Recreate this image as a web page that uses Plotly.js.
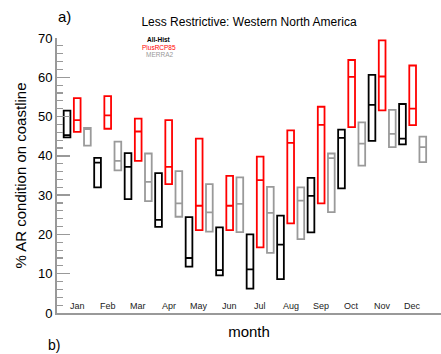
<!DOCTYPE html>
<html>
<head>
<meta charset="utf-8">
<script src="https://cdn.plot.ly/plotly-3.0.1.min.js"></script>
<style>html,body{margin:0;padding:0;background:#fff;}#chart{width:441px;height:354px;}</style>
</head>
<body>
<div id="chart"></div>
<script>
const months = ['Jan','Feb','Mar','Apr','May','Jun','Jul','Aug','Sep','Oct','Nov','Dec'];
const seriesNames = ['All-Hist','PlusRCP85','MERRA2'];

const allHistMax = [51.5,39.5,40.7,35.6,24.4,21.8,20.0,24.8,34.4,46.7,60.6,53.2];
const allHistMed = [45.3,38.3,37.2,23.7,14.0,10.9,11.1,17.4,29.8,44.6,53.0,44.4];
const allHistMin = [44.7,32.0,29.0,21.9,11.8,9.6,6.2,8.6,20.5,31.7,43.8,42.9];

const rcpMax = [54.7,55.2,49.5,49.1,44.4,34.9,39.8,46.5,52.5,64.4,69.4,63.0];
const rcpMed = [49.1,50.3,46.2,37.2,27.3,27.3,33.8,43.3,47.9,60.1,60.2,52.0];
const rcpMin = [46.1,46.9,38.7,32.8,21.1,21.1,16.7,22.8,27.9,47.3,51.6,47.8];

const merraMax = [47.1,43.6,40.6,36.1,32.8,34.5,32.1,32.0,40.6,48.5,51.7,44.9];
const merraMed = [46.8,38.7,33.4,27.9,25.6,27.8,25.5,28.6,39.4,43.1,45.6,42.2];
const merraMin = [42.6,36.3,28.5,24.5,20.7,20.6,15.3,18.8,25.7,37.5,42.2,38.4];

const colors = ['#000000','#ff0000','#9a9a9a'];
const offsets = [-1/3, 0, 1/3];
const stats = [
  [allHistMin, allHistMed, allHistMax],
  [rcpMin, rcpMed, rcpMax],
  [merraMin, merraMed, merraMax]
];

const idx = months.map((m,i)=>i+1);
const traces = stats.map((s,k)=>({
  type:'box',
  name: seriesNames[k],
  x: idx.map(v=>v+offsets[k]),
  q1: s[0], lowerfence: s[0],
  median: s[1],
  q3: s[2], upperfence: s[2],
  width: 0.22,
  fillcolor: 'rgba(0,0,0,0)',
  line: {color: colors[k], width: 1.8},
  whiskerwidth: 0,
  showlegend: false,
  hoverinfo: 'skip'
}));

const ann = months.map((m,i)=>({
  x: i+1, y: 1.7, xref:'x', yref:'y', text: m, showarrow:false,
  font:{size:9, color:'#222', family:'Liberation Sans, Arial, sans-serif'},
  xanchor:'center', yanchor:'middle'
}));

const legY = [39, 47, 55];
seriesNames.forEach((n,k)=>{
  ann.push({
    x: 159, y: legY[k], xref:'paper', yref:'paper', text: k===0 ? '<b>'+n+'</b>' : n,
    showarrow:false, font:{size:6.5, color:colors[k], family:'Liberation Sans, Arial, sans-serif'},
    xanchor:'center', yanchor:'middle'
  });
});

// convert pixel positions for legend to paper coords
const L=57, R=0, T=38, B=41, W=441, H=354;
const pw = W-L-R, ph = H-T-B;
ann.forEach(a=>{
  if(a.xref==='paper'){ a.x = (a.x - L)/pw; a.y = 1 - (a.y - T)/ph; }
});
ann.push({x:(64-L)/pw, y:1-(17-T)/ph, xref:'paper', yref:'paper', text:'a)', showarrow:false,
  font:{size:15, color:'#000', family:'Liberation Sans, Arial, sans-serif'}, xanchor:'center', yanchor:'middle'});
ann.push({x:(54-L)/pw, y:1-(345-T)/ph, xref:'paper', yref:'paper', text:'b)', showarrow:false,
  font:{size:14, color:'#000', family:'Liberation Sans, Arial, sans-serif'}, xanchor:'center', yanchor:'middle'});

const layout = {
  width: W, height: H,
  margin: {l:L, r:R, t:T, b:B, pad:0},
  paper_bgcolor:'#fff', plot_bgcolor:'#fff',
  font:{family:'Liberation Sans, Arial, sans-serif', color:'#000'},
  title:{text:'Less Restrictive: Western North America', font:{size:12, color:'#000'},
    xref:'paper', x:0.5, xanchor:'center', yref:'container', y:1-21.7/H, yanchor:'middle'},
  xaxis:{range:[0.337,12.93], showticklabels:false, ticks:'', showgrid:false, zeroline:false,
    showline:true, linecolor:'#999', linewidth:2,
    title:{text:'month', font:{size:15, color:'#000'}, standoff:12}},
  yaxis:{range:[0,70], tickvals:[0,10,20,30,40,50,60,70], ticks:'inside', ticklen:13, tickwidth:1.5,
    tickcolor:'#999', showgrid:false, zeroline:false, showline:true, linecolor:'#999', linewidth:2,
    tickfont:{size:13, color:'#000'},
    minor:{dtick:2, ticks:'inside', ticklen:6, tickwidth:1.2, tickcolor:'#999', showgrid:false},
    title:{text:'% AR condition on coastline', font:{size:15, color:'#000'}, standoff:8}},
  annotations: ann,
  showlegend:false
};

Plotly.newPlot('chart', traces, layout, {displayModeBar:false, staticPlot:true});
</script>
</body>
</html>
